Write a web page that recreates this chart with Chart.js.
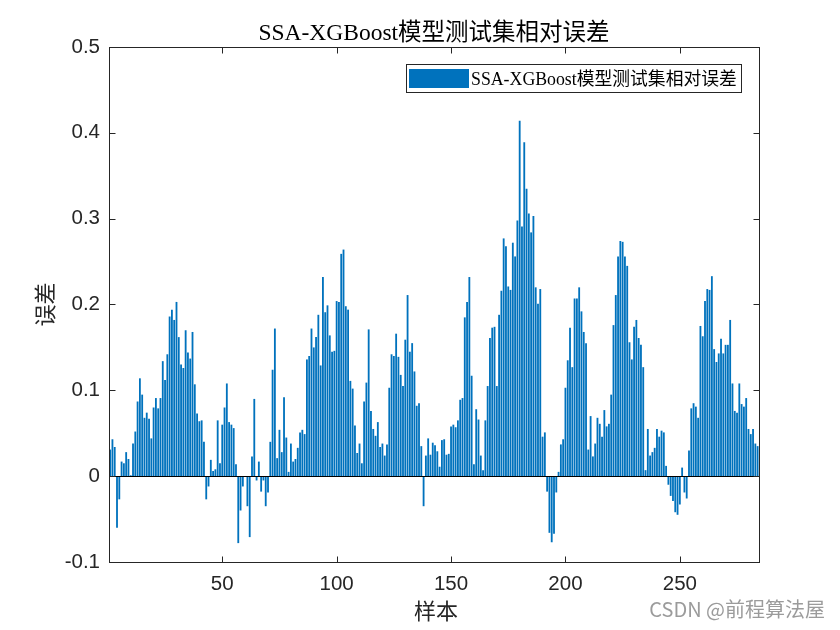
<!DOCTYPE html>
<html>
<head>
<meta charset="utf-8">
<script src="https://cdn.jsdelivr.net/npm/chart.js@4.4.0/dist/chart.umd.min.js"></script>
<style>
  html, body { margin: 0; padding: 0; background: #ffffff; }
  #wrap { width: 840px; height: 630px; position: relative; }
</style>
</head>
<body>
<div id="wrap"><canvas id="c" width="840" height="630"></canvas></div>
<script>
// ---- data ----
const chartTitle = 'SSA-XGBoost模型测试集相对误差';
const seriesName = 'SSA-XGBoost模型测试集相对误差';
const xAxisTitle = '样本';
const yAxisTitle = '误差';
const watermark = 'CSDN @前程算法屋';

const xTickValues = [50, 100, 150, 200, 250];
const yTickValues = [-0.1, 0, 0.1, 0.2, 0.3, 0.4, 0.5];
const yTickLabels = ['-0.1', '0', '0.1', '0.2', '0.3', '0.4', '0.5'];

const relativeErrors = [
  0.031, 0.043, 0.034, -0.060, -0.027, 0.017, 0.015, 0.028, 0.020, 0.001,
  0.038, 0.052, 0.087, 0.114, 0.095, 0.068, 0.074, 0.067, 0.044, 0.080,
  0.091, 0.079, 0.091, 0.134, 0.112, 0.142, 0.186, 0.194, 0.182, 0.203,
  0.162, 0.130, 0.126, 0.170, 0.144, 0.137, 0.168, 0.107, 0.073, 0.064,
  0.065, 0.040, -0.027, -0.012, 0.019, 0.006, 0.008, 0.065, 0.015, 0.060,
  0.080, 0.108, 0.063, 0.060, 0.056, 0.014, -0.078, -0.040, -0.012, 0.000,
  -0.035, -0.071, 0.023, 0.090, -0.005, 0.017, -0.018, -0.005, -0.035, -0.019,
  0.040, 0.124, 0.172, 0.021, 0.054, 0.028, 0.092, 0.045, 0.005, 0.038,
  0.017, 0.020, 0.033, 0.051, 0.054, 0.049, 0.136, 0.140, 0.172, 0.150,
  0.162, 0.188, 0.129, 0.232, 0.191, 0.199, 0.164, 0.145, 0.146, 0.204,
  0.203, 0.259, 0.264, 0.198, 0.194, 0.111, 0.102, 0.059, 0.027, 0.038,
  0.015, 0.087, 0.109, 0.171, 0.076, 0.055, 0.047, 0.063, 0.034, 0.038,
  0.024, 0.037, 0.103, 0.142, 0.140, 0.166, 0.139, 0.118, 0.105, 0.159,
  0.211, 0.145, 0.155, 0.122, 0.082, 0.085, 0.035, -0.035, 0.024, 0.044,
  0.025, 0.039, 0.036, 0.029, 0.011, 0.042, 0.043, 0.025, 0.026, 0.058,
  0.060, 0.057, 0.065, 0.089, 0.091, 0.185, 0.203, 0.232, 0.117, 0.014,
  0.078, 0.066, 0.024, 0.007, 0.065, 0.105, 0.161, 0.173, 0.174, 0.105,
  0.188, 0.216, 0.277, 0.268, 0.221, 0.217, 0.272, 0.256, 0.298, 0.414,
  0.291, 0.389, 0.335, 0.306, 0.284, 0.303, 0.220, 0.201, 0.218, 0.046,
  0.051, -0.018, -0.066, -0.077, -0.067, -0.019, 0.005, 0.037, 0.043, 0.103,
  0.135, 0.173, 0.127, 0.207, 0.207, 0.220, 0.192, 0.168, 0.155, 0.031,
  0.070, 0.023, 0.038, 0.068, 0.061, 0.046, 0.077, 0.058, 0.061, 0.095,
  0.176, 0.211, 0.256, 0.274, 0.273, 0.256, 0.245, 0.156, 0.136, 0.174,
  0.182, 0.161, 0.153, 0.127, 0.007, 0.055, 0.024, 0.028, 0.033, 0.055,
  0.046, 0.053, 0.051, 0.012, -0.010, -0.023, -0.029, -0.042, -0.045, -0.033,
  0.010, -0.019, -0.026, 0.030, 0.079, 0.085, 0.081, 0.068, 0.175, 0.163,
  0.204, 0.218, 0.217, 0.233, 0.148, 0.133, 0.143, 0.160, 0.143, 0.153,
  0.153, 0.182, 0.108, 0.076, 0.074, 0.108, 0.084, 0.081, 0.091, 0.055,
  0.049, 0.055, 0.038, 0.035
];
const sampleIndex = relativeErrors.map((_, i) => i + 1);

// ---- styles ----
const BAR_COLOR = '#0072BD';
const AXIS_COLOR = '#262626';
const SERIF = '"Liberation Serif", "Times New Roman", "Noto Sans CJK SC", serif';
const SANS = '"Liberation Sans", Arial, Helvetica, sans-serif';

const decorPlugin = {
  id: 'decor',
  afterDatasetsDraw(chart) {
    const { ctx, chartArea: a, scales } = chart;
    const xs = scales.x, ys = scales.y;
    ctx.save();
    // baseline at zero
    const y0 = Math.round(ys.getPixelForValue(0)) + 0.5;
    ctx.strokeStyle = '#000000';
    ctx.lineWidth = 1;
    ctx.beginPath(); ctx.moveTo(a.left, y0); ctx.lineTo(a.right, y0); ctx.stroke();
    // axes box
    ctx.strokeStyle = AXIS_COLOR;
    ctx.lineWidth = 1;
    const L = a.left + 0.5, R = a.right + 0.5, T = a.top + 0.5, B = a.bottom + 0.5;
    ctx.strokeRect(L, T, R - L, B - T);
    // inward tick marks
    const tl = 6;
    ctx.beginPath();
    xTickValues.forEach(v => {
      const px = Math.round(xs.getPixelForValue(v)) + 0.5;
      ctx.moveTo(px, B); ctx.lineTo(px, B - tl);
      ctx.moveTo(px, T); ctx.lineTo(px, T + tl);
    });
    yTickValues.forEach(v => {
      const py = Math.round(ys.getPixelForValue(v)) + 0.5;
      ctx.moveTo(L, py); ctx.lineTo(L + tl, py);
      ctx.moveTo(R, py); ctx.lineTo(R - tl, py);
    });
    ctx.stroke();

    // title
    const cx = (a.left + a.right) / 2;
    ctx.fillStyle = '#000000';
    ctx.textAlign = 'center';
    ctx.textBaseline = 'alphabetic';
    ctx.font = '23.5px ' + SERIF;
    ctx.fillText(chartTitle, cx, 40);

    // x axis title
    ctx.fillStyle = AXIS_COLOR;
    ctx.font = '22px ' + SERIF;
    ctx.fillText(xAxisTitle, cx + 2, 619);

    // y axis title (rotated)
    ctx.save();
    ctx.translate(53, (a.top + a.bottom) / 2);
    ctx.rotate(-Math.PI / 2);
    ctx.textAlign = 'center';
    ctx.fillText(yAxisTitle, 0, 0);
    ctx.restore();

    // legend
    const lx = 406.5, ly = 64.5, lw = 335, lh = 28;
    ctx.fillStyle = '#ffffff';
    ctx.fillRect(lx, ly, lw, lh);
    ctx.strokeStyle = AXIS_COLOR;
    ctx.lineWidth = 1;
    ctx.strokeRect(lx, ly, lw, lh);
    ctx.fillStyle = BAR_COLOR;
    ctx.fillRect(409, 69, 60, 19);
    ctx.fillStyle = '#000000';
    ctx.textAlign = 'left';
    ctx.font = '17.8px ' + SERIF;
    ctx.fillText(seriesName, 471, 84.5);

    // watermark
    ctx.textAlign = 'right';
    ctx.font = '20px "Noto Sans CJK SC", ' + SANS;
    ctx.fillStyle = 'rgba(150,150,150,0.95)';
    ctx.fillText(watermark, 825, 617);
    ctx.restore();
  }
};

new Chart(document.getElementById('c'), {
  type: 'bar',
  data: {
    datasets: [{
      label: seriesName,
      data: sampleIndex.map((x, i) => ({ x: x, y: relativeErrors[i] })),
      backgroundColor: BAR_COLOR,
      borderWidth: 0,
      barPercentage: 0.8,
      categoryPercentage: 1.0
    }]
  },
  options: {
    responsive: false,
    animation: false,
    devicePixelRatio: 1,
    layout: { padding: { top: 47, right: 81, left: 0, bottom: 0 } },
    plugins: { legend: { display: false }, title: { display: false }, tooltip: { enabled: false } },
    scales: {
      x: {
        type: 'linear',
        min: 0.5,
        max: 284.6,
        offset: false,
        grid: { display: false, drawTicks: false },
        border: { display: false },
        afterBuildTicks: s => { s.ticks = xTickValues.map(v => ({ value: v })); },
        afterFit: s => { s.height = 68; },
        ticks: {
          padding: 10,
          color: AXIS_COLOR,
          font: { family: SANS, size: 20.5 },
          maxRotation: 0,
          autoSkip: false,
          callback: v => String(v)
        }
      },
      y: {
        min: -0.1,
        max: 0.5,
        grid: { display: false, drawTicks: false },
        border: { display: false },
        afterBuildTicks: s => { s.ticks = yTickValues.map(v => ({ value: v })); },
        afterFit: s => { s.width = 109; },
        ticks: {
          padding: 9,
          color: AXIS_COLOR,
          font: { family: SANS, size: 20.5 },
          autoSkip: false,
          callback: (v) => {
            const i = yTickValues.findIndex(t => Math.abs(t - v) < 1e-9);
            return i >= 0 ? yTickLabels[i] : '';
          }
        }
      }
    }
  },
  plugins: [decorPlugin]
});
</script>
</body>
</html>
